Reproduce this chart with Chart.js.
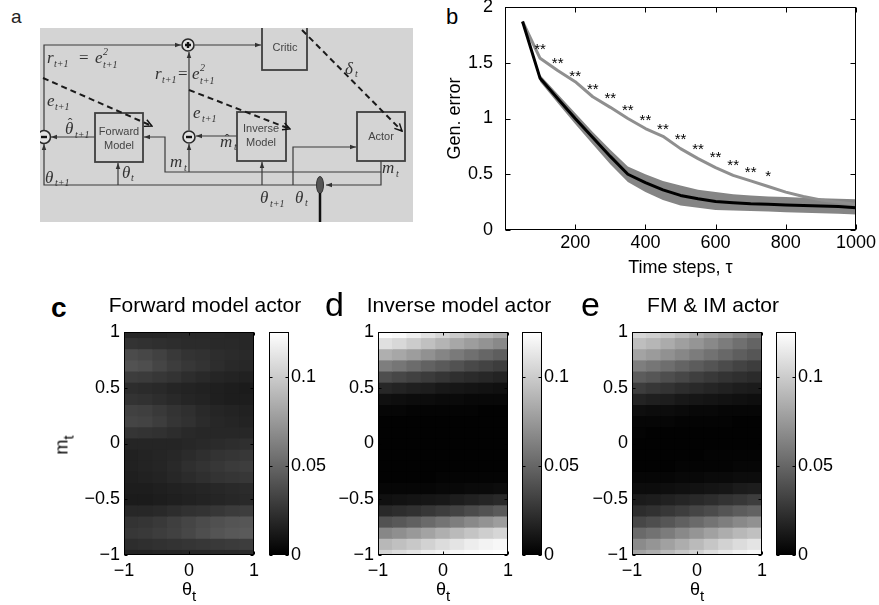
<!DOCTYPE html>
<html>
<head>
<meta charset="utf-8">
<script src="https://cdn.jsdelivr.net/npm/chart.js@4.4.0/dist/chart.umd.min.js"></script>
<style>
  html, body { margin: 0; padding: 0; background: #fff; }
  #fig { position: relative; width: 879px; height: 605px; overflow: hidden;
         font-family: 'Liberation Sans', Arial, sans-serif; color: #000; }
  #fig canvas, #fig svg, #fig .lab { position: absolute; }
  .lab { white-space: nowrap; }
  .letter { font-size: 34px; line-height: 34px; }
  .title { font-size: 21px; line-height: 21px; transform: translateX(-50%); }
  .xlab { font-size: 18px; line-height: 18px; transform: translateX(-50%); }
  .sub { font-size: 15px; position: relative; top: 6px; }
  .ylab { font-size: 18px; line-height: 18px; transform: translate(-50%, -50%) rotate(-90deg); }
  svg text { fill: #333; }
  svg .mi { font-family: 'Liberation Serif', 'DejaVu Serif', serif; font-style: italic; font-size: 17px; }
  svg .s { font-size: 10px; }
  svg .up { font-style: normal; }
  svg .hat { font-family: 'Liberation Serif', 'DejaVu Serif', serif; font-size: 14px; text-anchor: middle; }
  svg .bx { font-family: 'Liberation Sans', Arial, sans-serif; font-size: 11px; fill: #444; text-anchor: middle; }
</style>
</head>
<body>
<div id="fig">
  <div class="lab" style="left:11px;top:7px;font-size:19px;line-height:19px;color:#222">a</div>
  <svg width="440" height="230" viewBox="0 0 440 230" style="left:0;top:0;filter:blur(0.4px)">
    <defs>
      <marker id="ah" viewBox="0 0 8 8" refX="8" refY="4" markerWidth="6" markerHeight="6" orient="auto" markerUnits="userSpaceOnUse">
        <path d="M0,1 L8,4 L0,7 z" fill="#333"/>
      </marker>
      <marker id="oh" viewBox="0 0 10 10" refX="9" refY="5" markerWidth="9" markerHeight="9" orient="auto" markerUnits="userSpaceOnUse">
        <path d="M1,1 L9,5 L1,9" fill="none" stroke="#111" stroke-width="1.6"/>
      </marker>
      <clipPath id="clipA"><rect x="40" y="28" width="373" height="194"/></clipPath>
    </defs>
    <rect x="40" y="28" width="373" height="194" fill="#d4d4d4"/>
    <g clip-path="url(#clipA)">
      <g stroke="#3a3a3a" stroke-width="1.2" fill="none">
        <path d="M44,131 V45 H181" marker-end="url(#ah)"/>
        <path d="M195,45 H261" marker-end="url(#ah)"/>
        <path d="M95,137 H51" marker-end="url(#ah)"/>
        <path d="M381,161 V185 H326" marker-end="url(#ah)"/>
        <path d="M381,172 H165 V137 H144" marker-end="url(#ah)"/>
        <path d="M189,172 V144" marker-end="url(#ah)"/>
        <path d="M189,130 V52" marker-end="url(#ah)"/>
        <path d="M237,136 H196" marker-end="url(#ah)"/>
        <path d="M316,185 H44 V144" marker-end="url(#ah)"/>
        <path d="M118,185 V163" marker-end="url(#ah)"/>
        <path d="M262,185 V162" marker-end="url(#ah)"/>
        <path d="M293,185 V147 H356" marker-end="url(#ah)"/>
      </g>
      <g stroke="#3f3f3f" stroke-width="1.8" fill="none">
        <rect x="262" y="20" width="45" height="50"/>
        <rect x="95" y="113" width="48" height="49"/>
        <rect x="237" y="112" width="49" height="49"/>
        <rect x="357" y="112" width="48" height="49"/>
      </g>
      <g stroke="#2a2a2a" stroke-width="1.6" fill="#e2e2e2">
        <circle cx="188" cy="45" r="6"/>
        <circle cx="44" cy="137" r="6.5"/>
        <circle cx="189" cy="137" r="6"/>
      </g>
      <g stroke="#111" stroke-width="2.4">
        <path d="M185,45 H191 M188,42 V48"/>
        <path d="M41,137 H47"/>
        <path d="M186,137 H192"/>
      </g>
      <g stroke="#1a1a1a" stroke-width="2" stroke-dasharray="6 4" fill="none">
        <path d="M43,78 L152,126" marker-end="url(#oh)"/>
        <path d="M189,90 L290,129" marker-end="url(#oh)"/>
        <path d="M302,30 L402,131" marker-end="url(#oh)"/>
      </g>
      <ellipse cx="320" cy="185" rx="3.5" ry="8.5" fill="#555" stroke="#333" stroke-width="1"/>
      <path d="M320,193 V222" stroke="#111" stroke-width="2.5"/>
      <text class="bx" x="285" y="51">Critic</text>
      <text class="bx" x="119" y="135" font-size="10">Forward</text>
      <text class="bx" x="119" y="149" font-size="10">Model</text>
      <text class="bx" x="261" y="132" font-size="10">Inverse</text>
      <text class="bx" x="261" y="146" font-size="10">Model</text>
      <text class="bx" x="381" y="140">Actor</text>
      <text class="mi"><tspan x="47" y="63">r</tspan><tspan class="s" x="54" y="67">t+1</tspan><tspan class="up" x="79" y="63">=</tspan><tspan x="95" y="63">e</tspan><tspan class="s" x="103" y="55">2</tspan><tspan class="s" x="103" y="68">t+1</tspan></text>
      <text class="mi"><tspan x="155" y="79">r</tspan><tspan class="s" x="162" y="83">t+1</tspan><tspan class="up" x="178" y="79">=</tspan><tspan x="192" y="79">e</tspan><tspan class="s" x="200" y="71">2</tspan><tspan class="s" x="200" y="84">t+1</tspan></text>
      <text class="mi"><tspan x="47" y="106">e</tspan><tspan class="s" x="55" y="110">t+1</tspan></text>
      <text class="mi"><tspan x="65" y="134">θ</tspan><tspan class="s" x="75" y="138">t+1</tspan></text>
      <text class="hat" x="70" y="128">ˆ</text>
      <text class="mi"><tspan x="193" y="118">e</tspan><tspan class="s" x="202" y="122">t+1</tspan></text>
      <text class="mi"><tspan x="220" y="147">m</tspan><tspan class="s" x="234" y="150">t</tspan></text>
      <text class="hat" x="227" y="144">ˆ</text>
      <text class="mi"><tspan x="170" y="167">m</tspan><tspan class="s" x="184" y="171">t</tspan></text>
      <text class="mi"><tspan x="122" y="178">θ</tspan><tspan class="s" x="131" y="181">t</tspan></text>
      <text class="mi"><tspan x="45" y="183">θ</tspan><tspan class="s" x="55" y="186">t+1</tspan></text>
      <text class="mi"><tspan x="260" y="203">θ</tspan><tspan class="s" x="270" y="207">t+1</tspan></text>
      <text class="mi"><tspan x="295" y="203">θ</tspan><tspan class="s" x="305" y="206">t</tspan></text>
      <text class="mi"><tspan x="382" y="173">m</tspan><tspan class="s" x="396" y="177">t</tspan></text>
      <text class="mi"><tspan x="345" y="74">δ</tspan><tspan class="s" x="355" y="77">t</tspan></text>
    </g>
  </svg>

  <div class="lab" style="left:446px;top:6px;font-size:22px;line-height:22px">b</div>
  <canvas id="errChart" width="449" height="290" style="left:430px;top:0"></canvas>

  <div class="lab" style="left:51px;top:294px;font-size:28px;line-height:28px;font-weight:bold">c</div>
  <div class="lab letter" style="left:325px;top:287px">d</div>
  <div class="lab letter" style="left:581px;top:287px">e</div>
  <div class="lab title" style="left:205px;top:294px">Forward model actor</div>
  <div class="lab title" style="left:459px;top:294px">Inverse model actor</div>
  <div class="lab title" style="left:713px;top:294px">FM &amp; IM actor</div>

  <canvas id="heatFM" width="225" height="270" style="left:40px;top:320px"></canvas>
  <canvas id="heatIM" width="225" height="270" style="left:294px;top:320px"></canvas>
  <canvas id="heatBoth" width="225" height="270" style="left:548px;top:320px"></canvas>
  <canvas id="cbFM" width="70" height="250" style="left:267px;top:320px"></canvas>
  <canvas id="cbIM" width="70" height="250" style="left:520px;top:320px"></canvas>
  <canvas id="cbBoth" width="70" height="250" style="left:774px;top:320px"></canvas>

  <div class="lab xlab" style="left:189px;top:580px">θ<span class="sub">t</span></div>
  <div class="lab xlab" style="left:443px;top:580px">θ<span class="sub">t</span></div>
  <div class="lab xlab" style="left:697px;top:580px">θ<span class="sub">t</span></div>
  <div class="lab ylab" style="left:62px;top:445px">m<span class="sub">t</span></div>
</div>

<script>
// generalisation error vs. training time
var tau = [50, 100, 150, 200, 250, 300, 350, 400, 450, 500, 550, 600, 650, 700, 750, 800, 850, 900, 950, 1000];
var errGray = [1.87, 1.54, 1.43, 1.33, 1.195, 1.10, 1.00, 0.91, 0.84, 0.73, 0.64, 0.56, 0.49, 0.44, 0.39, 0.34, 0.30, 0.27, 0.25, 0.23];
var errBlack = [1.87, 1.36, 1.18, 1.00, 0.83, 0.66, 0.50, 0.425, 0.36, 0.31, 0.28, 0.255, 0.245, 0.235, 0.23, 0.225, 0.22, 0.215, 0.21, 0.20];
var bandHigh = [1.88, 1.39, 1.22, 1.05, 0.88, 0.72, 0.57, 0.50, 0.44, 0.40, 0.36, 0.34, 0.32, 0.31, 0.30, 0.295, 0.29, 0.285, 0.28, 0.275];
var bandLow = [1.86, 1.33, 1.14, 0.95, 0.77, 0.59, 0.43, 0.34, 0.27, 0.22, 0.20, 0.18, 0.175, 0.17, 0.165, 0.16, 0.155, 0.15, 0.145, 0.14];
var starTau = [100, 150, 200, 250, 300, 350, 400, 450, 500, 550, 600, 650, 700, 750];
var starErr = [1.66, 1.53, 1.42, 1.30, 1.22, 1.11, 1.02, 0.94, 0.85, 0.76, 0.69, 0.62, 0.56, 0.52];
var starText = ['**', '**', '**', '**', '**', '**', '**', '**', '**', '**', '**', '**', '**', '*'];
var tauTicks = [200, 400, 600, 800, 1000];
var errTicks = [0, 0.5, 1, 1.5, 2];

// actor maps: rows are m_t from 1 down to -1, columns are theta_t cells from -1 to 1
var mRows = [1, 0.9, 0.8, 0.7, 0.6, 0.5, 0.4, 0.3, 0.2, 0.1, 0, -0.1, -0.2, -0.3, -0.4, -0.5, -0.6, -0.7, -0.8, -0.9, -1];
var thetaCols = [-0.889, -0.667, -0.444, -0.222, 0, 0.222, 0.444, 0.667, 0.889];
var thetaTicks = [-1, 0, 1];
var mTicks = [-1, -0.5, 0, 0.5, 1];
var cbTicks = [0, 0.05, 0.1];
var cbMax = 0.125;

var fmActor = [
  [0.019, 0.019, 0.019, 0.020, 0.020, 0.020, 0.020, 0.019, 0.019],
  [0.025, 0.024, 0.023, 0.022, 0.021, 0.021, 0.020, 0.020, 0.019],
  [0.037, 0.035, 0.032, 0.028, 0.025, 0.024, 0.022, 0.021, 0.020],
  [0.040, 0.038, 0.034, 0.030, 0.027, 0.025, 0.022, 0.020, 0.019],
  [0.030, 0.029, 0.027, 0.025, 0.022, 0.020, 0.018, 0.017, 0.016],
  [0.022, 0.021, 0.020, 0.018, 0.017, 0.016, 0.015, 0.014, 0.013],
  [0.025, 0.024, 0.022, 0.020, 0.018, 0.017, 0.015, 0.014, 0.014],
  [0.032, 0.031, 0.028, 0.025, 0.023, 0.020, 0.018, 0.017, 0.016],
  [0.034, 0.033, 0.030, 0.026, 0.024, 0.021, 0.019, 0.018, 0.017],
  [0.026, 0.025, 0.024, 0.022, 0.020, 0.019, 0.019, 0.019, 0.019],
  [0.018, 0.018, 0.018, 0.018, 0.019, 0.020, 0.021, 0.022, 0.023],
  [0.016, 0.017, 0.018, 0.019, 0.021, 0.023, 0.025, 0.026, 0.027],
  [0.016, 0.017, 0.018, 0.020, 0.023, 0.025, 0.027, 0.029, 0.030],
  [0.015, 0.016, 0.017, 0.019, 0.021, 0.023, 0.025, 0.026, 0.027],
  [0.014, 0.014, 0.015, 0.016, 0.017, 0.018, 0.019, 0.020, 0.021],
  [0.013, 0.013, 0.014, 0.015, 0.016, 0.017, 0.018, 0.019, 0.020],
  [0.019, 0.019, 0.020, 0.022, 0.024, 0.025, 0.027, 0.029, 0.030],
  [0.025, 0.026, 0.028, 0.031, 0.034, 0.037, 0.039, 0.041, 0.042],
  [0.027, 0.028, 0.030, 0.032, 0.035, 0.038, 0.041, 0.043, 0.044],
  [0.022, 0.023, 0.024, 0.025, 0.026, 0.027, 0.028, 0.029, 0.030],
  [0.017, 0.017, 0.018, 0.018, 0.019, 0.019, 0.020, 0.020, 0.021]
];

var imActor = [
  [0.124, 0.122, 0.117, 0.111, 0.105, 0.099, 0.094, 0.089, 0.084],
  [0.110, 0.106, 0.100, 0.094, 0.088, 0.082, 0.077, 0.072, 0.067],
  [0.086, 0.082, 0.077, 0.071, 0.065, 0.060, 0.055, 0.050, 0.046],
  [0.062, 0.058, 0.053, 0.048, 0.044, 0.040, 0.036, 0.033, 0.030],
  [0.038, 0.035, 0.032, 0.029, 0.026, 0.023, 0.021, 0.019, 0.017],
  [0.019, 0.017, 0.015, 0.014, 0.012, 0.011, 0.010, 0.009, 0.008],
  [0.008, 0.007, 0.006, 0.006, 0.005, 0.005, 0.004, 0.004, 0.004],
  [0.003, 0.003, 0.002, 0.002, 0.002, 0.002, 0.002, 0.001, 0.001],
  [0.001, 0.001, 0.001, 0.001, 0.001, 0.001, 0.001, 0.001, 0.001],
  [0.001, 0.001, 0.001, 0.001, 0.001, 0.001, 0.001, 0.001, 0.001],
  [0.001, 0.001, 0.001, 0.001, 0.001, 0.001, 0.001, 0.001, 0.001],
  [0.001, 0.001, 0.001, 0.001, 0.001, 0.001, 0.001, 0.001, 0.001],
  [0.001, 0.001, 0.001, 0.001, 0.001, 0.001, 0.001, 0.001, 0.001],
  [0.001, 0.001, 0.001, 0.001, 0.002, 0.002, 0.002, 0.002, 0.002],
  [0.003, 0.003, 0.003, 0.003, 0.004, 0.004, 0.005, 0.005, 0.006],
  [0.008, 0.009, 0.010, 0.011, 0.012, 0.014, 0.016, 0.018, 0.020],
  [0.020, 0.022, 0.024, 0.027, 0.030, 0.033, 0.037, 0.040, 0.044],
  [0.040, 0.043, 0.047, 0.052, 0.057, 0.062, 0.067, 0.072, 0.077],
  [0.066, 0.070, 0.075, 0.080, 0.086, 0.091, 0.096, 0.101, 0.105],
  [0.090, 0.094, 0.098, 0.103, 0.108, 0.112, 0.116, 0.119, 0.121],
  [0.104, 0.108, 0.112, 0.116, 0.119, 0.121, 0.123, 0.124, 0.125]
];

var bothActor = [
  [0.105, 0.102, 0.097, 0.091, 0.084, 0.078, 0.073, 0.066, 0.060],
  [0.093, 0.089, 0.084, 0.078, 0.073, 0.067, 0.061, 0.055, 0.049],
  [0.080, 0.076, 0.071, 0.066, 0.061, 0.056, 0.051, 0.046, 0.042],
  [0.062, 0.058, 0.054, 0.049, 0.045, 0.041, 0.037, 0.033, 0.030],
  [0.045, 0.042, 0.038, 0.035, 0.031, 0.028, 0.025, 0.023, 0.021],
  [0.030, 0.027, 0.025, 0.022, 0.020, 0.018, 0.016, 0.014, 0.013],
  [0.017, 0.015, 0.014, 0.012, 0.011, 0.010, 0.009, 0.008, 0.007],
  [0.007, 0.006, 0.006, 0.005, 0.004, 0.004, 0.003, 0.003, 0.003],
  [0.003, 0.003, 0.003, 0.002, 0.002, 0.002, 0.002, 0.001, 0.001],
  [0.002, 0.001, 0.001, 0.001, 0.001, 0.001, 0.001, 0.001, 0.001],
  [0.001, 0.001, 0.001, 0.001, 0.001, 0.001, 0.001, 0.001, 0.001],
  [0.001, 0.001, 0.001, 0.001, 0.001, 0.002, 0.002, 0.002, 0.002],
  [0.001, 0.001, 0.001, 0.002, 0.002, 0.002, 0.002, 0.003, 0.003],
  [0.003, 0.003, 0.003, 0.004, 0.004, 0.005, 0.005, 0.006, 0.006],
  [0.006, 0.006, 0.007, 0.008, 0.009, 0.010, 0.011, 0.013, 0.014],
  [0.013, 0.014, 0.016, 0.018, 0.020, 0.022, 0.025, 0.027, 0.030],
  [0.022, 0.024, 0.027, 0.030, 0.034, 0.037, 0.041, 0.045, 0.048],
  [0.035, 0.038, 0.042, 0.047, 0.052, 0.057, 0.062, 0.067, 0.071],
  [0.052, 0.056, 0.061, 0.067, 0.073, 0.079, 0.085, 0.090, 0.094],
  [0.068, 0.073, 0.079, 0.085, 0.091, 0.097, 0.103, 0.108, 0.112],
  [0.080, 0.085, 0.091, 0.097, 0.103, 0.109, 0.114, 0.118, 0.121]
];

var FONT = "'Liberation Sans', Arial, sans-serif";
Chart.defaults.font.family = FONT;
Chart.defaults.color = '#000';
Chart.defaults.animation = false;
Chart.defaults.responsive = false;
Chart.defaults.events = [];
Chart.defaults.plugins.legend.display = false;
Chart.defaults.plugins.tooltip.enabled = false;

// no grid and no outer tick marks; the box plugin draws them inside
var NO_GRID = {display: false, drawTicks: false};

function fmtTick(v) {
  var s = String(Math.round(Math.abs(v) * 1000) / 1000);
  return v < 0 ? '\u2212' + s : s;
}

function fixedTicks(list) {
  return function(scale) {
    scale.ticks = list.map(function(v) { return {value: v}; });
  };
}

function fixWidth(w) {
  return function(scale) { scale.width = w; scale.paddingTop = 0; scale.paddingBottom = 0; };
}

function fixHeight(h) {
  return function(scale) { scale.height = h; scale.paddingLeft = 0; scale.paddingRight = 0; };
}

function pairs(xs, ys) {
  return xs.map(function(x, i) { return {x: x, y: ys[i]}; });
}

// matlab style axes box with inward ticks on every side
var boxPlugin = {
  id: 'box',
  afterDatasetsDraw: function(chart, args, opts) {
    var a = chart.chartArea, ctx = chart.ctx, len = opts.tick || 0;
    var l = Math.round(a.left) + 0.5, r = Math.round(a.right) - 0.5;
    var t = Math.round(a.top) + 0.5, b = Math.round(a.bottom) - 0.5;
    ctx.save();
    ctx.strokeStyle = '#000';
    ctx.lineWidth = 1;
    ctx.beginPath();
    Object.keys(chart.scales).forEach(function(id) {
      var s = chart.scales[id];
      if (!s.options.display) return;
      s.ticks.forEach(function(tk) {
        var p = Math.round(s.getPixelForValue(tk.value)) + 0.5;
        if (s.isHorizontal()) {
          ctx.moveTo(p, b); ctx.lineTo(p, b - len);
          ctx.moveTo(p, t); ctx.lineTo(p, t + len);
        } else {
          ctx.moveTo(l, p); ctx.lineTo(l + len, p);
          ctx.moveTo(r, p); ctx.lineTo(r - len, p);
        }
      });
    });
    ctx.stroke();
    ctx.strokeRect(l, t, r - l, b - t);
    ctx.restore();
  }
};

// significance markers above the curves
var starPlugin = {
  id: 'stars',
  afterDatasetsDraw: function(chart) {
    var xs = chart.scales.x, ys = chart.scales.y, ctx = chart.ctx;
    ctx.save();
    ctx.font = '15px ' + FONT;
    ctx.fillStyle = '#000';
    ctx.textAlign = 'center';
    ctx.textBaseline = 'alphabetic';
    starTau.forEach(function(t, i) {
      ctx.fillText(starText[i], xs.getPixelForValue(t), ys.getPixelForValue(starErr[i]) + 9);
    });
    ctx.restore();
  }
};

new Chart(document.getElementById('errChart'), {
  type: 'line',
  data: {
    datasets: [
      {data: pairs(tau, bandLow), borderWidth: 0, pointRadius: 0, fill: false, order: 3},
      {data: pairs(tau, bandHigh), borderWidth: 0, pointRadius: 0, fill: '-1', backgroundColor: '#858585', order: 3},
      {data: pairs(tau, errBlack), borderColor: '#000', borderWidth: 3, pointRadius: 0, order: 1, borderJoinStyle: 'round'},
      {data: pairs(tau, errGray), borderColor: '#8f8f8f', borderWidth: 3, pointRadius: 0, order: 2, borderJoinStyle: 'round'}
    ]
  },
  options: {
    layout: {padding: {top: 7, right: 23, left: 0, bottom: 0}},
    elements: {line: {tension: 0}},
    scales: {
      x: {
        type: 'linear', min: 0, max: 1000,
        afterBuildTicks: fixedTicks(tauTicks), afterFit: fixHeight(60),
        grid: NO_GRID, border: {display: false},
        ticks: {font: {size: 18}, padding: 2, maxRotation: 0, autoSkip: false, callback: fmtTick},
        title: {display: true, text: 'Time steps, \u03c4', font: {size: 18}, padding: {top: 0, bottom: 11}}
      },
      y: {
        min: 0, max: 2,
        afterBuildTicks: fixedTicks(errTicks), afterFit: fixWidth(75),
        grid: NO_GRID, border: {display: false},
        ticks: {font: {size: 18}, padding: 12, callback: fmtTick},
        title: {display: true, text: 'Gen. error', font: {size: 18}, padding: {top: 14, bottom: 0}}
      }
    },
    plugins: {box: {tick: 5}}
  },
  plugins: [boxPlugin, starPlugin]
});

function grayOf(v) {
  var g = Math.round(Math.max(0, Math.min(1, v / cbMax)) * 255);
  return 'rgb(' + g + ',' + g + ',' + g + ')';
}

function drawActorMap(id, grid) {
  var half = (mRows[0] - mRows[1]) / 2;
  var datasets = mRows.map(function(m, r) {
    var lo = Math.max(m - half, -1), hi = Math.min(m + half, 1);
    return {
      data: thetaCols.map(function(t) { return {x: t, y: [lo, hi]}; }),
      backgroundColor: grid[r].map(grayOf),
      borderWidth: 0,
      barPercentage: 1,
      categoryPercentage: 1,
      grouped: false,
      inflateAmount: 0.5,
      clip: 0
    };
  });
  return new Chart(document.getElementById(id), {
    type: 'bar',
    data: {datasets: datasets},
    options: {
      layout: {padding: {top: 12, right: 11, left: 0, bottom: 0}},
      scales: {
        x: {
          type: 'linear', min: -1, max: 1, offset: false,
          afterBuildTicks: fixedTicks(thetaTicks), afterFit: fixHeight(35),
          grid: NO_GRID, border: {display: false},
          ticks: {font: {size: 18}, padding: 5, maxRotation: 0, autoSkip: false, callback: fmtTick}
        },
        y: {
          min: -1, max: 1,
          afterBuildTicks: fixedTicks(mTicks), afterFit: fixWidth(84),
          grid: NO_GRID, border: {display: false},
          ticks: {font: {size: 18}, padding: 4, autoSkip: false, callback: fmtTick}
        }
      },
      plugins: {box: {tick: 3}}
    },
    plugins: [boxPlugin]
  });
}

function drawColorbar(id) {
  return new Chart(document.getElementById(id), {
    type: 'bar',
    data: {
      labels: [''],
      datasets: [{
        data: [[0, cbMax]],
        backgroundColor: function(ctx) {
          var ca = ctx.chart.chartArea;
          if (!ca) return '#000';
          var g = ctx.chart.ctx.createLinearGradient(0, ca.bottom, 0, ca.top);
          g.addColorStop(0, '#000');
          g.addColorStop(1, '#fff');
          return g;
        },
        borderWidth: 0, barPercentage: 1, categoryPercentage: 1
      }]
    },
    options: {
      layout: {padding: {top: 12, right: 0, left: 2, bottom: 15}},
      scales: {
        x: {display: false},
        y: {
          position: 'right', min: 0, max: cbMax,
          afterBuildTicks: fixedTicks(cbTicks), afterFit: fixWidth(48),
          grid: NO_GRID, border: {display: false},
          ticks: {font: {size: 18}, padding: 2, autoSkip: false, callback: fmtTick}
        }
      },
      plugins: {box: {tick: 3}}
    },
    plugins: [boxPlugin]
  });
}

drawActorMap('heatFM', fmActor);
drawActorMap('heatIM', imActor);
drawActorMap('heatBoth', bothActor);
drawColorbar('cbFM');
drawColorbar('cbIM');
drawColorbar('cbBoth');
</script>
</body>
</html>
